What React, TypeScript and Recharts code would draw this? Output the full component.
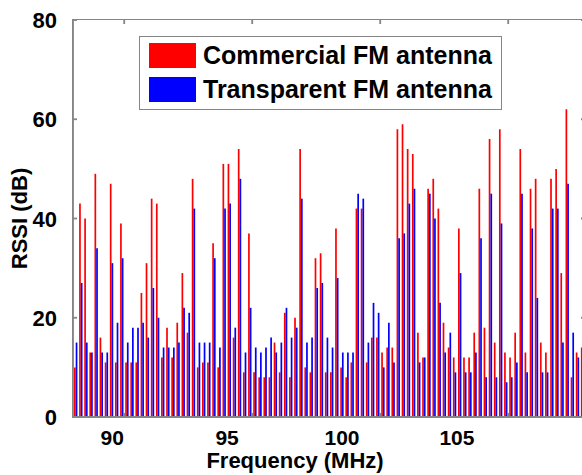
import React from 'react';
import { BarChart, Bar, XAxis, YAxis } from 'recharts';

const frequencies = [
  88.1, 88.3, 88.5, 88.7, 88.9, 89.1, 89.3, 89.5, 89.7, 89.9,
  90.1, 90.3, 90.5, 90.7, 90.9, 91.1, 91.3, 91.5, 91.7, 91.9,
  92.1, 92.3, 92.5, 92.7, 92.9, 93.1, 93.3, 93.5, 93.7, 93.9,
  94.1, 94.3, 94.5, 94.7, 94.9, 95.1, 95.3, 95.5, 95.7, 95.9,
  96.1, 96.3, 96.5, 96.7, 96.9, 97.1, 97.3, 97.5, 97.7, 97.9,
  98.1, 98.3, 98.5, 98.7, 98.9, 99.1, 99.3, 99.5, 99.7, 99.9,
  100.1, 100.3, 100.5, 100.7, 100.9, 101.1, 101.3, 101.5, 101.7, 101.9,
  102.1, 102.3, 102.5, 102.7, 102.9, 103.1, 103.3, 103.5, 103.7, 103.9,
  104.1, 104.3, 104.5, 104.7, 104.9, 105.1, 105.3, 105.5, 105.7, 105.9,
  106.1, 106.3, 106.5, 106.7, 106.9, 107.1, 107.3, 107.5, 107.7, 107.9,
];

const commercial = [
  10, 43, 40, 13, 49, 16, 11, 47, 11, 39,
  11, 11, 11, 25, 31, 44, 43, 12, 18, 12,
  19, 29, 17, 48, 10, 11, 11, 35, 10, 51,
  51, 16, 54, 9, 37, 9, 8, 8, 8, 15,
  9, 21, 8, 20, 54, 10, 9, 32, 33, 9,
  9, 38, 10, 8, 11, 42, 42, 11, 16, 16,
  13, 14, 14, 58, 59, 54, 53, 17, 12, 46,
  48, 42, 19, 14, 12, 38, 12, 12, 17, 46,
  18, 56, 15, 58, 13, 12, 17, 54, 13, 46,
  48, 15, 13, 48, 50, 29, 62, 8, 13, 14,
];

const transparent = [
  15, 27, 15, 13, 34, 13, 13, 31, 19, 32,
  15, 18, 18, 19, 16, 26, 20, 14, 14, 14,
  15, 22, 21, 42, 15, 15, 15, 32, 14, 42,
  43, 18, 48, 13, 22, 14, 13, 14, 16, 13,
  15, 22, 16, 18, 44, 15, 16, 26, 27, 16,
  14, 28, 13, 13, 13, 45, 44, 15, 23, 21,
  10, 19, 11, 36, 37, 43, 46, 11, 12, 45,
  40, 23, 13, 17, 9, 29, 9, 9, 13, 36,
  8, 45, 8, 39, 7, 8, 11, 45, 9, 38,
  24, 9, 9, 42, 42, 15, 47, 17, 12, 10,
];

const xDomain = [88, 108];
const yDomain = [0, 80];
const xTicks = [90, 95, 100, 105];
const yTicks = [0, 20, 40, 60, 80];
const legendLabels = ['Commercial FM antenna', 'Transparent FM antenna'];

const data = frequencies.map((f, i) => ({
  f,
  commercial: commercial[i],
  transparent: transparent[i],
}));

const FONT = '"Liberation Sans", Arial, Helvetica, sans-serif';
const AXIS = '#858585';
const SW = 1.8;
const TL = 4;
const PLOT_TOP = 20;
const PLOT_LEFT = 73;
const PLOT_RIGHT = 585;
const PLOT_BOTTOM = 417;

const BottomTick = (props: any) => {
  const { x, y, payload } = props;
  const lx = x - (x - 6) * 0.102;
  return (
    <g>
      <line x1={x} x2={x} y1={y} y2={y - TL} stroke={AXIS} strokeWidth={SW} />
      <line x1={x} x2={x} y1={PLOT_TOP} y2={PLOT_TOP + TL} stroke={AXIS} strokeWidth={SW} />
      <text x={lx} y={y + 28} textAnchor="middle" fontFamily={FONT} fontWeight="bold" fontSize={21} fill="#000">
        {payload.value}
      </text>
    </g>
  );
};

const LeftTick = (props: any) => {
  const { x, y, payload } = props;
  return (
    <g>
      <line x1={x} x2={x + TL} y1={y} y2={y} stroke={AXIS} strokeWidth={SW} />
      <line x1={PLOT_RIGHT} x2={PLOT_RIGHT - TL} y1={y} y2={y} stroke={AXIS} strokeWidth={SW} />
      <text x={x - 16} y={y + 8} textAnchor="end" fontFamily={FONT} fontWeight="bold" fontSize={22} fill="#000">
        {payload.value}
      </text>
    </g>
  );
};

const XTitle = (props: any) => {
  const { viewBox } = props;
  const cx = viewBox.x + viewBox.width / 2;
  return (
    <text x={cx - 34} y={viewBox.y + 51} textAnchor="middle" fontFamily={FONT} fontWeight="bold" fontSize={22} fill="#000">
      Frequency (MHz)
    </text>
  );
};

const YTitle = (props: any) => {
  const { viewBox } = props;
  const cy = viewBox.y + viewBox.height / 2;
  return (
    <text
      x={27}
      y={cy}
      transform={`rotate(-90, 27, ${cy})`}
      textAnchor="middle"
      fontFamily={FONT}
      fontWeight="bold"
      fontSize={22}
      fill="#000"
    >
      RSSI (dB)
    </text>
  );
};

export default function App() {
  return (
    <div style={{ position: 'absolute', left: 0, top: 0, width: 582, height: 475, overflow: 'hidden', background: '#fff' }}>
      <BarChart
        width={600}
        height={475}
        data={data}
        margin={{ top: 20, right: 15, bottom: 28, left: 13 }}
        barGap={0}
      >
        <XAxis
          dataKey="f"
          type="number"
          domain={xDomain}
          allowDataOverflow
          ticks={xTicks}
          height={30}
          tickSize={0}
          tickMargin={0}
          tickLine={false}
          axisLine={{ stroke: AXIS, strokeWidth: SW }}
          tick={<BottomTick />}
          interval={0}
          label={<XTitle />}
        />
        <YAxis
          domain={yDomain}
          ticks={yTicks}
          width={60}
          tickSize={0}
          tickMargin={0}
          tickLine={false}
          axisLine={{ stroke: AXIS, strokeWidth: SW }}
          tick={<LeftTick />}
          interval={0}
          label={<YTitle />}
        />
        <Bar dataKey="commercial" fill="#ff0000" barSize={1.7} isAnimationActive={false} />
        <Bar dataKey="transparent" fill="#0000ff" barSize={1.7} isAnimationActive={false} />
      </BarChart>
      <div
        style={{
          position: 'absolute',
          left: PLOT_LEFT - 1,
          top: PLOT_TOP - 1,
          width: PLOT_RIGHT - PLOT_LEFT + 2,
          height: PLOT_BOTTOM - PLOT_TOP + 2,
          boxSizing: 'border-box',
          border: `1.5px solid ${AXIS}`,
          pointerEvents: 'none',
        }}
      />
      <div
        style={{
          position: 'absolute',
          left: 139,
          top: 36,
          width: 361,
          height: 72,
          border: `1.5px solid ${AXIS}`,
          background: '#fff',
          fontFamily: FONT,
          fontWeight: 'bold',
          fontSize: 25,
          color: '#000',
        }}
      >
        <div style={{ position: 'absolute', left: 9, top: 6, width: 47, height: 25, background: '#ff0000' }} />
        <div style={{ position: 'absolute', left: 9, top: 40, width: 47, height: 25, background: '#0000ff' }} />
        <div style={{ position: 'absolute', left: 63, top: 4, lineHeight: '29px', whiteSpace: 'nowrap' }}>{legendLabels[0]}</div>
        <div style={{ position: 'absolute', left: 63, top: 38, lineHeight: '29px', whiteSpace: 'nowrap' }}>{legendLabels[1]}</div>
      </div>
    </div>
  );
}
